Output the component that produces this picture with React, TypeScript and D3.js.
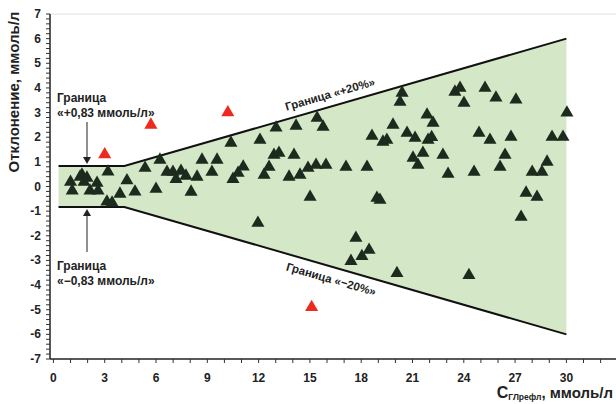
import React from 'react';
import * as d3 from 'd3';

// reference concentration, mmol/l
const glucoseRef = [
  1.0, 1.1, 1.56, 1.67, 1.96, 1.79, 2.14, 2.55, 2.61, 3.19, 3.13, 3.43, 3.89, 4.3, 4.77,
  5.36, 6.0, 6.23, 6.64, 6.99, 7.17, 7.46, 7.75, 8.05, 8.4, 8.69, 9.27, 9.57, 10.38,
  10.5, 10.8, 11.1, 12.08, 13.02, 14.19, 15.42, 15.77, 12.9, 13.19, 14.07, 12.61, 12.32,
  13.78, 14.42, 14.89, 15.36, 15.94, 17.11, 18.34, 15.01, 11.96, 18.92, 19.1, 17.69,
  18.04, 18.46, 17.4, 20.09, 20.39, 20.27, 18.63, 19.27, 19.5, 19.86, 20.68, 21.15,
  21.85, 21.61, 21.03, 21.32, 21.91, 22.12, 22.2, 23.48, 23.78, 24.01, 25.24, 25.88,
  27.05, 30.03, 22.78, 23.08, 24.6, 24.89, 25.53, 26.76, 26.41, 26.12, 28.0, 28.57,
  28.87, 27.64, 28.28, 27.35, 29.16, 29.8, 24.3,
];
// deviation, mmol/l
const deviation = [
  0.18, -0.17, 0.39, 0.47, 0.35, 0.18, -0.17, 0.14, -0.17, 0.6, -0.62, -0.66, -0.3, 0.24, -0.21,
  0.75, -0.1, 1.08, 0.59, 0.59, 0.3, 0.63, 0.43, -0.22, 0.39, 1.08, 0.59, 1.08, 1.77,
  0.3, 0.55, 0.8, 1.89, 2.38, 2.46, 2.78, 2.42, 1.28, 1.36, 1.28, 0.79, 0.47,
  0.39, 0.47, 0.75, 0.87, 0.87, 0.79, 0.79, -0.43, -1.48, -0.47, -0.55, -2.09,
  -2.83, -2.58, -3.03, -3.52, 3.8, 3.43, 2.05, 1.81, 1.89, 2.5, 2.17, 1.97,
  2.91, 1.36, 1.16, 0.87, 1.89, 2.0, 2.58, 3.84, 4.0, 3.39, 4.0, 3.6,
  3.52, 2.99, 1.28, 0.51, 0.59, 2.17, 1.89, 2.01, 1.28, 0.79, 0.59, 0.59,
  1.0, -0.26, -0.43, -1.24, 2.01, 2.01, -3.6,
];

// points outside the limits
const outX = [3.0, 5.7, 10.2, 15.1];
const outY = [1.3, 2.5, 3.0, -4.9];

// limits: ±0.83 mmol/l below 4.15, ±20% above
const limitX = [0.3, 4.15, 30];
const limitY = [0.83, 0.83, 6];

const xTickLabels = [0, 3, 6, 9, 12, 15, 18, 21, 24, 27, 30];
const yTickLabels = [-7, -6, -5, -4, -3, -2, -1, 0, 1, 2, 3, 4, 5, 6, 7];

const W = 616;
const H = 404;
const font = 'Arial, "Liberation Sans", sans-serif';

export default function App() {
  const x = d3.scaleLinear().domain([-0.2, 33]).range([50, 617.7]);
  const y = d3.scaleLinear().domain([-7, 7]).range([359, 14]);

  const upper = limitX.map((v, i) => [x(v), y(limitY[i])] as [number, number]);
  const lower = limitX.map((v, i) => [x(v), y(-limitY[i])] as [number, number]);
  const area = [...upper, ...lower.slice().reverse()];
  const line = d3.line();

  const tri = d3.symbol(d3.symbolTriangle, 74)() as string;
  const xTicks = d3.range(0, 34, 1);
  const yMinor = d3.range(-7, 7.01, 0.2);

  const angle = (Math.atan2(upper[2][1] - upper[1][1], upper[2][0] - upper[1][0]) * 180) / Math.PI;

  return (
    <svg width={W} height={H} style={{ position: 'absolute', left: 0, top: 0, background: '#fff' }}>
      <line x1={50} x2={W} y1={y(7)} y2={y(7)} stroke="#e2e2e2" strokeWidth={1} />

      <path d={line(area as [number, number][]) + 'Z'} fill="#d4e8c8" stroke="none" />
      <path d={line(upper)!} fill="none" stroke="#111" strokeWidth={2} />
      <path d={line(lower)!} fill="none" stroke="#111" strokeWidth={2} />

      {glucoseRef.map((v, i) => (
        <path key={i} d={tri} transform={`translate(${x(v)},${y(deviation[i])})`} fill="#1c2b1d" />
      ))}
      {outX.map((v, i) => (
        <path key={'o' + i} d={tri} transform={`translate(${x(v)},${y(outY[i])})`} fill="#ee2a1f" />
      ))}

      {/* axes */}
      <line x1={50} x2={50} y1={y(7)} y2={y(-7)} stroke="#222" strokeWidth={1.5} />
      <line x1={50} x2={W} y1={y(-7)} y2={y(-7)} stroke="#222" strokeWidth={1.5} />
      {yMinor.map((v, i) => (
        <line key={i} x1={46} x2={50} y1={y(v)} y2={y(v)} stroke="#333" strokeWidth={1} />
      ))}
      {yTickLabels.map(v => (
        <text key={v} x={41} y={y(v) + 4} textAnchor="end" fontFamily={font} fontWeight="bold" fontSize={12} fill="#222">
          {v}
        </text>
      ))}
      {xTicks.map(v => (
        <line key={v} x1={x(v)} x2={x(v)} y1={y(-7)} y2={y(-7) + 4} stroke="#333" strokeWidth={1} />
      ))}
      {xTickLabels.map(v => (
        <text key={v} x={x(v)} y={382} textAnchor="middle" fontFamily={font} fontWeight="bold" fontSize={12} fill="#222">
          {v}
        </text>
      ))}

      <text transform="translate(19,92) rotate(-90)" textAnchor="middle" fontFamily={font} fontWeight="bold" fontSize={15} fill="#222">
        Отклонение, ммоль/л
      </text>
      <text x={613} y={398} textAnchor="end" fontFamily={font} fontWeight="bold" fill="#222">
        <tspan fontSize={16}>С</tspan>
        <tspan fontSize={8.5} dy={2}>ГЛрефл</tspan>
        <tspan fontSize={15} dy={-2}>, ммоль/л</tspan>
      </text>

      {/* limit annotations */}
      <g fontFamily={font} fontWeight="bold" fontSize={12} fill="#222">
        <text x={57} y={102}>Граница</text>
        <text x={57} y={117}>«+0,83 ммоль/л»</text>
        <text x={57} y={270}>Граница</text>
        <text x={57} y={285}>«−0,83 ммоль/л»</text>
        <text transform={`translate(331,98) rotate(${angle})`} textAnchor="middle" fontSize={11.5}>
          Граница «+20%»
        </text>
        <text transform={`translate(330,283) rotate(${-angle})`} textAnchor="middle" fontSize={11.5}>
          Граница «−20%»
        </text>
      </g>
      <line x1={87} x2={87} y1={122} y2={158} stroke="#222" strokeWidth={1} />
      <path d="M83,157 L91,157 L87,164 Z" fill="#222" />
      <line x1={87} x2={87} y1={252} y2={215} stroke="#222" strokeWidth={1} />
      <path d="M83,216 L91,216 L87,209 Z" fill="#222" />
    </svg>
  );
}
